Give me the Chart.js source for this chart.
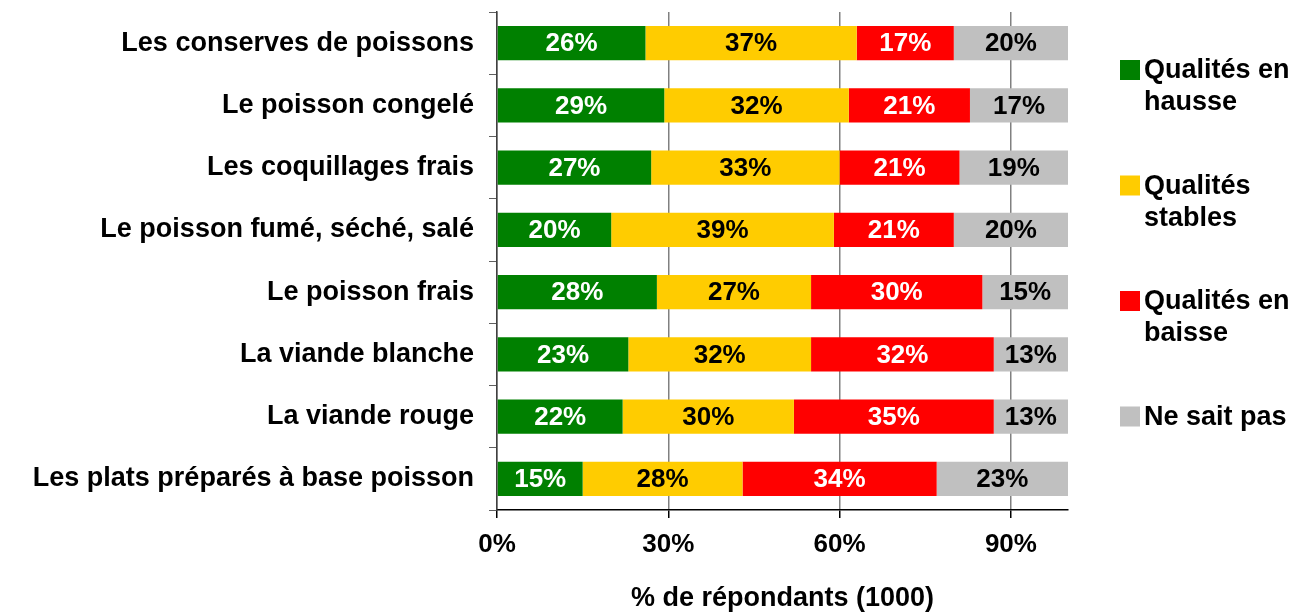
<!DOCTYPE html>
<html>
<head>
<meta charset="utf-8">
<script src="https://cdn.jsdelivr.net/npm/chart.js@4.4.1/dist/chart.umd.min.js"></script>
<style>
  html, body { margin: 0; padding: 0; background: #fff; }
  #wrap { width: 1303px; height: 613px; position: relative; }
</style>
</head>
<body>
<div id="wrap"><canvas id="qualityChart"></canvas></div>
<script>
const categories = [
  "Les conserves de poissons",
  "Le poisson congelé",
  "Les coquillages frais",
  "Le poisson fumé, séché, salé",
  "Le poisson frais",
  "La viande blanche",
  "La viande rouge",
  "Les plats préparés à base poisson",
];
const seriesNames = [
  ["Qualités en", "hausse"],
  ["Qualités", "stables"],
  ["Qualités en", "baisse"],
  ["Ne sait pas"],
];
const hausse = [26, 29, 27, 20, 28, 23, 22, 15];
const stables = [37, 32, 33, 39, 27, 32, 30, 28];
const baisse = [17, 21, 21, 21, 30, 32, 35, 34];
const neSaitPas = [20, 17, 19, 20, 15, 13, 13, 23];
const xTicks = [0, 30, 60, 90];

const colors = ["#008000", "#FFCC00", "#FF0000", "#C0C0C0"];
const textColors = ["#FFFFFF", "#000000", "#FFFFFF", "#000000"];
const FONT = '"Liberation Sans", Arial, sans-serif';

// 100% stacked: each row is scaled to its own total
const allSeries = [hausse, stables, baisse, neSaitPas];
const rowTotals = categories.map((_, i) => allSeries.reduce((s, a) => s + a[i], 0));
const toShare = arr => arr.map((v, i) => v / rowTotals[i] * 100);

const datasets = allSeries.map((vals, k) => ({
  label: seriesNames[k].join(" "),
  data: toShare(vals),
  shown: vals,
  backgroundColor: colors[k],
  borderWidth: 0,
  categoryPercentage: 1,
  barPercentage: 0.55,
}));

// percentage written in the middle of every segment
const barLabels = {
  id: "barLabels",
  afterDatasetsDraw(chart) {
    const ctx = chart.ctx;
    ctx.save();
    ctx.font = "bold 26px " + FONT;
    ctx.textAlign = "center";
    ctx.textBaseline = "middle";
    chart.data.datasets.forEach((ds, di) => {
      chart.getDatasetMeta(di).data.forEach((bar, i) => {
        const p = bar.getCenterPoint();
        ctx.fillStyle = textColors[di];
        ctx.fillText(ds.shown[i] + "%", p.x, p.y + 1);
      });
    });
    ctx.restore();
  },
};

// legend on the right with wrapped names
const sideLegend = {
  id: "sideLegend",
  afterDraw(chart) {
    const ctx = chart.ctx;
    const x = chart.chartArea.right + 52;
    ctx.save();
    ctx.font = "bold 27px " + FONT;
    ctx.textAlign = "left";
    ctx.textBaseline = "middle";
    seriesNames.forEach((lines, k) => {
      const cy = 70 + k * 115.5;
      ctx.fillStyle = colors[k];
      ctx.fillRect(x, cy - 10, 20, 20);
      ctx.fillStyle = "#000";
      lines.forEach((t, j) => ctx.fillText(t, x + 24, cy + 1 + j * 32));
    });
    ctx.restore();
  },
};

new Chart(document.getElementById("qualityChart"), {
  type: "bar",
  data: { labels: categories, datasets: datasets },
  plugins: [barLabels, sideLegend],
  options: {
    indexAxis: "y",
    responsive: true,
    maintainAspectRatio: false,
    animation: false,
    layout: { padding: { top: 12, right: 235, left: 0, bottom: 0 } },
    plugins: {
      legend: { display: false },
      tooltip: { enabled: false },
    },
    scales: {
      x: {
        stacked: true,
        min: 0,
        max: 100,
        afterBuildTicks: s => { s.ticks = xTicks.map(v => ({ value: v })); },
        afterFit: s => { s.height = 103; },
        ticks: {
          callback: v => v + "%",
          color: "#000",
          padding: 11,
          font: { family: FONT, size: 26, weight: "bold" },
        },
        grid: { color: "#808080", lineWidth: 1.5, tickColor: "#000", tickLength: 8 },
        border: { color: "#000", width: 1.5 },
        title: {
          display: true,
          text: "% de répondants (1000)",
          color: "#000",
          padding: 0,
          font: { family: FONT, size: 27, weight: "bold", lineHeight: 1.05 },
        },
      },
      y: {
        stacked: true,
        afterFit: s => {
          s.width = 497;
          s.paddingTop = 0;
          s.paddingBottom = 0;
        },
        ticks: {
          color: "#000",
          padding: 15,
          font: { family: FONT, size: 27, weight: "bold" },
        },
        grid: { drawOnChartArea: false, offset: true, tickLength: 8, tickColor: "#606060" },
        border: { color: "#404040", width: 1.5 },
      },
    },
  },
});
</script>
</body>
</html>
